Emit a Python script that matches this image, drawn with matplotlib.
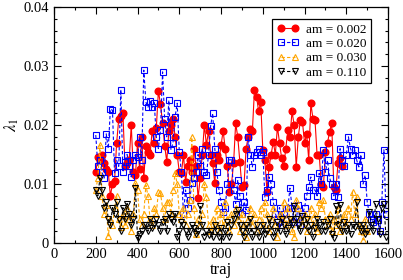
import numpy as np
import matplotlib.pyplot as plt
from matplotlib.ticker import MultipleLocator, FuncFormatter

plt.rcParams['font.family'] = 'Liberation Serif'
plt.rcParams['mathtext.fontset'] = 'stix'

# values in units of 1e-3, sampled every 10 trajectories
red_start = 200
red_vals = [12, 14.5, 14, 15, 13.5, 12.5, 12, 8, 10, 10.5, 17, 21, 21.5, 22, 13, 13.5, 14, 20, 12, 11.5,
            17, 12.5, 18, 11, 16.5, 15.5, 15, 19, 17, 19.5, 25.8, 23.5, 20.3, 16.5, 13.8, 19, 20, 21, 18, 15,
            12, 11.8, 15, 10.4, 13, 14, 12, 16, 13, 7.6, 11, 14.9, 20, 16.6, 19, 15, 13.5, 10.1, 15, 14,
            16.6, 19, 16, 13, 8.7, 10, 13.5, 20.3, 18, 13.8, 9.5, 9.8, 16, 18, 19.4, 19, 25.9, 24.8, 22.3, 23.9,
            15.8, 14, 8.7, 12.9, 15, 17.2, 15, 19.7, 17, 14.4, 13, 16, 19.2, 18, 22.3, 20, 12.9, 18, 20.8, 20.5,
            16.9, 18.5, 14.1, 23.7, 21.1, 20.8, 14.9, 15, 10, 9.5, 15.5, 17, 18.9, 20.3, 9.5, 9, 13.5, 14.4, 13]

blue_start = 200
blue_vals = [18.3, 13, 14, 12, 11, 18.5, 16, 22.7, 22.5, 11.8, 14, 13, 26, 12, 13.8, 15, 13, 11.2, 14, 15,
             14.5, 18, 14, 29.3, 23.9, 23, 24, 23, 23.8, 18, 16, 19.2, 29, 21, 18, 24.2, 15.8, 17, 21.4, 23.7,
             15.5, 12, 5, 9, 6, 7.3, 10.1, 11, 12, 15, 13, 16, 12, 11.5, 15, 19.8, 22, 16, 12, 9,
             7, 5.3, 6, 10, 14.1, 14.1, 9, 6.7, 10.7, 8, 5, 7, 5.6, 18, 15, 12.9, 15, 15.5, 16, 15,
             15.5, 7.8, 9, 11.2, 10, 7, 5, 4, 6, 3, 5, 4, 6, 9.3, 6, 3.5, 4, 6.4, 3, 5,
             6, 8, 9.5, 11.2, 9, 9, 8, 11.8, 10, 15.8, 12, 14, 11, 10, 8, 10, 7.8, 16, 14, 13,
             15, 18, 16, 15, 15.8, 14, 12.9, 15, 10, 11.5, 7, 5, 4, 3.5, 5, 3.9, 2, 7, 15.8, 5]

orange_start = 200
orange_vals = [9, 11, 16.6, 8, 5, 6.4, 1.2, 4, 3, 6, 8, 4, 2.8, 5, 3, 6, 4, 2, 5, 10.1,
               9, 4, 3, 5, 9.8, 8, 4, 3, 6, 5, 8.7, 8.4, 6, 4, 7, 7, 5, 9, 11.8, 10,
               5, 4, 6, 3, 5, 7.3, 17.9, 6, 1.6, 4, 3, 5, 10, 7.8, 3, 2, 4, 3, 6, 2,
               5, 3, 7, 4, 2, 5, 3, 6, 4, 2, 5, 3, 1, 4, 6, 3, 5, 2, 4, 6,
               3, 7, 5, 2, 4, 6, 3, 1, 5, 4, 7, 3, 6, 4, 2, 1, 7.3, 6, 4, 3,
               5, 2, 4, 6, 3, 5, 2, 7, 6, 7.3, 4, 3, 5, 2, 4, 3, 6, 2, 4, 5,
               3, 6, 4, 8.7, 5, 7.8, 3, 2, 0.5, 4, 2]

black_start = 200
black_vals = [9, 8, 11, 9, 6, 7, 4, 3, 6, 5, 7, 4, 2, 6, 4, 6.7, 5, 3, 4, 9.3,
              0.8, 1.5, 2, 3, 3, 2, 4, 2.5, 3.3, 4, 3, 2, 3.5, 4, 2, 5, 4, 3.5, 5, 1,
              2, 3.5, 3, 2, 1, 2, 3, 2.5, 1.5, 2, 6.2, 3, 1, 2, 1.4, 2, 1, 3, 2, 1,
              2.5, 1, 2, 3.5, 1, 3, 4, 5, 5.6, 3, 2, 1, 3, 2, 4, 1, 2, 3, 1, 2,
              3, 1.5, 2, 4, 3, 1, 2, 3.5, 2, 4, 3, 1.5, 2.5, 4, 3, 6.2, 4, 3, 2, 4.5,
              3, 4, 2, 3, 1, 2.5, 4, 3, 2, 3.5, 2, 3, 4, 1.5, 0.8, 6.2, 3, 6.4, 2, 3.5,
              2, 3, 1.5, 3, 2.8, 7, 3, 2, 3, 1.5, 2, 5.3, 3, 2, 6.7, 4, 1.5, 5.9, 6.7, 1]

labels = ['am = 0.002', 'am = 0.020', 'am = 0.030', 'am = 0.110']


def series(start, vals):
    x = start + 10 * np.arange(len(vals))
    return x, np.array(vals) * 1e-3


fig = plt.figure(figsize=(4.03, 2.80), dpi=100)
ax = fig.add_axes([0.134, 0.132, 0.829, 0.843])

x, y = series(red_start, red_vals)
ax.plot(x, y, '-', color='red', lw=0.8, marker='o', ms=4.8, mfc='red', mec='red', label=labels[0])
x, y = series(blue_start, blue_vals)
ax.plot(x, y, '--', color='blue', lw=0.8, dashes=(3, 2), marker='s', ms=4.2, mfc='none', mec='blue',
        mew=0.8, label=labels[1])
x, y = series(orange_start, orange_vals)
ax.plot(x, y, '--', color='orange', lw=0.8, dashes=(3, 2), marker='^', ms=5, mfc='none', mec='orange',
        mew=0.8, label=labels[2])
x, y = series(black_start, black_vals)
ax.plot(x, y, '--', color='black', lw=0.8, dashes=(3, 2), marker='v', ms=5, mfc='none', mec='black',
        mew=0.8, label=labels[3])

ax.set_xlim(0, 1600)
ax.set_ylim(0, 0.04)
ax.xaxis.set_major_locator(MultipleLocator(200))
ax.xaxis.set_minor_locator(MultipleLocator(100))
ax.yaxis.set_major_locator(MultipleLocator(0.01))
ax.yaxis.set_minor_locator(MultipleLocator(0.002))
ax.yaxis.set_major_formatter(FuncFormatter(lambda v, p: '0' if abs(v) < 1e-9 else f'{v:.2f}'))
ax.tick_params(which='both', direction='in', top=True, right=True, labelsize=10.5)
ax.tick_params(which='major', length=5, width=0.8)
ax.tick_params(which='minor', length=2.5, width=0.8)
for s in ax.spines.values():
    s.set_linewidth(0.9)

ax.set_xlabel('traj', fontsize=12, labelpad=1)
ax.set_ylabel(r'$\lambda_1$', fontsize=12, labelpad=2)

leg = ax.legend(loc='upper right', bbox_to_anchor=(0.949, 0.949), numpoints=2, fontsize=9.5,
                fancybox=False, edgecolor='black', framealpha=1, handlelength=1.7,
                borderpad=0.35, labelspacing=0.15, handletextpad=0.5, borderaxespad=0)
leg.get_frame().set_linewidth(0.9)

fig.savefig('out.png', dpi=100)
